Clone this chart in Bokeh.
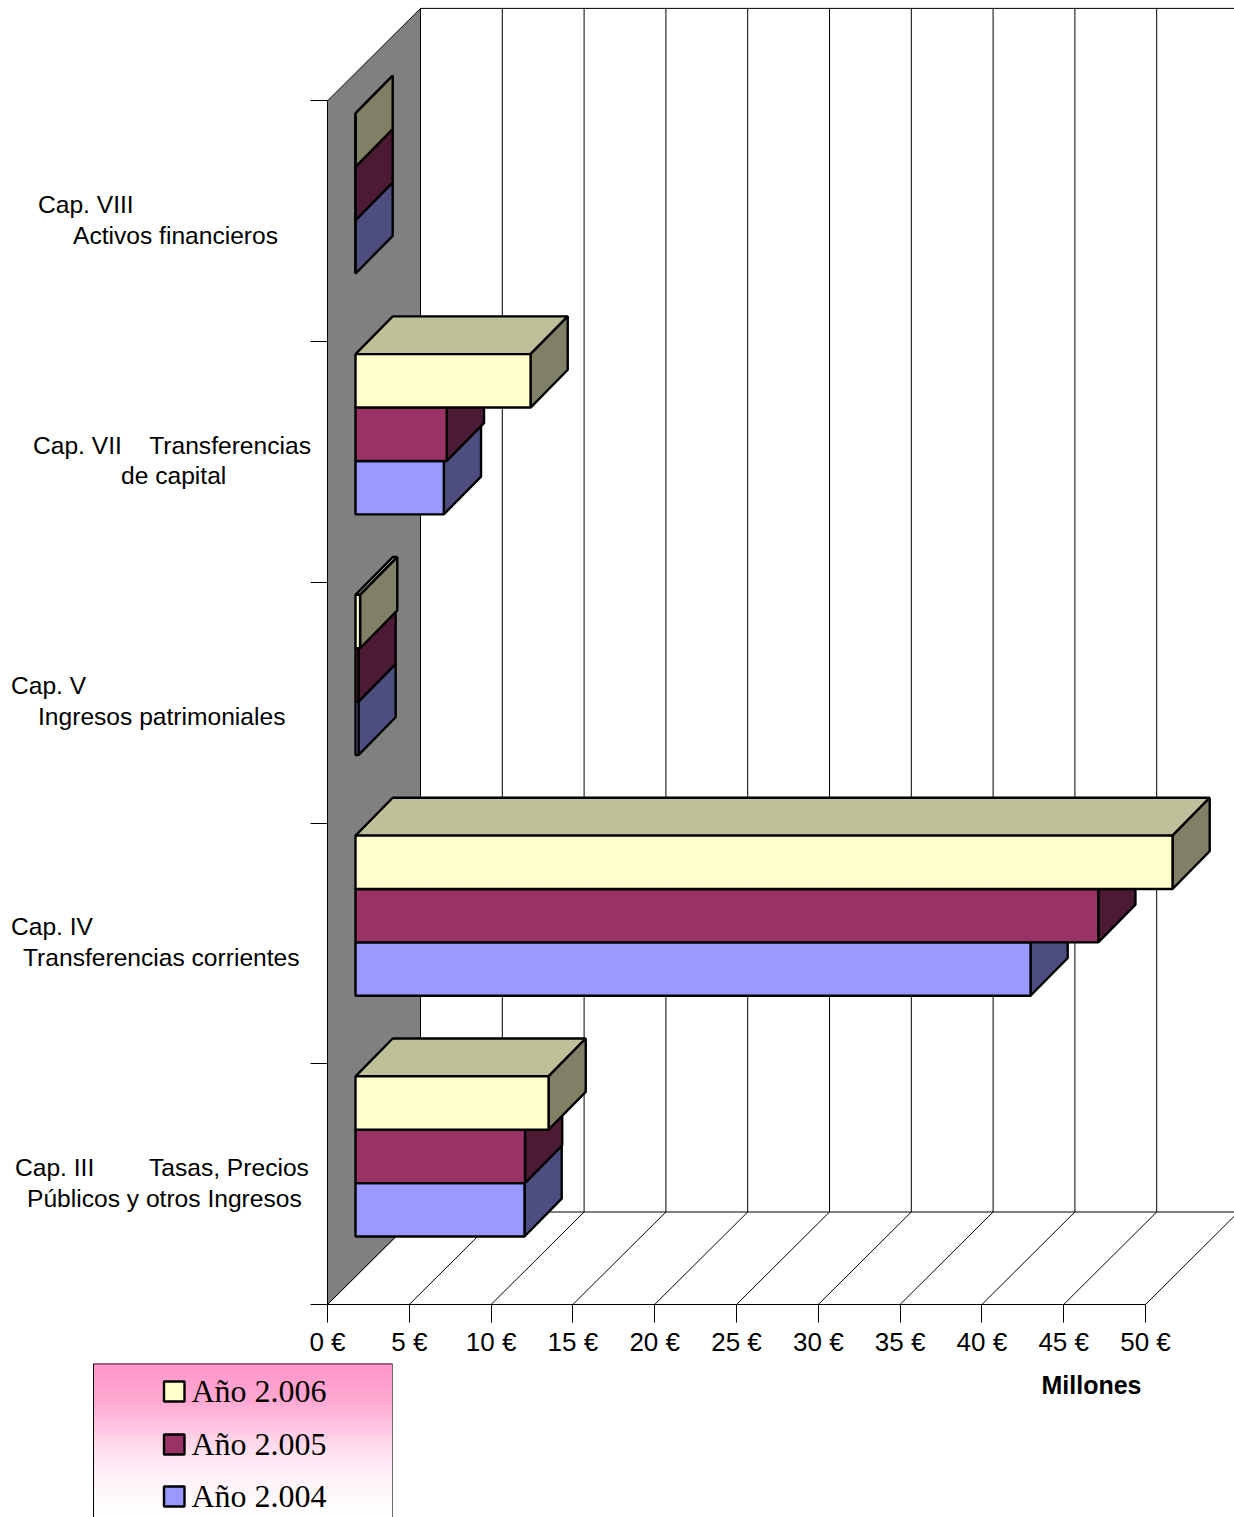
from bokeh.plotting import figure
from bokeh.models import ColumnDataSource, LinearAxis, FixedTicker, PrintfTickFormatter, Range1d
from bokeh.core.properties import value
from bokeh.embed import file_html
from bokeh.resources import INLINE

categories = ["Cap. III", "Cap. IV", "Cap. V", "Cap. VII", "Cap. VIII"]
label_line1 = ["Cap. III\u00a0\u00a0\u00a0\u00a0\u00a0\u00a0\u00a0\u00a0Tasas, Precios",
               "Cap. IV", "Cap. V",
               "Cap. VII\u00a0\u00a0\u00a0\u00a0Transferencias", "Cap. VIII"]
label_line2 = ["Públicos y otros Ingresos", "Transferencias corrientes",
               "Ingresos patrimoniales", "de capital", "Activos financieros"]
years = ["Año 2.004", "Año 2.005", "Año 2.006"]
anio_2004 = [10.33, 41.26, 0.18, 5.40, 0.0]
anio_2005 = [10.36, 45.40, 0.18, 5.58, 0.0]
anio_2006 = [11.80, 49.94, 0.28, 10.70, 0.0]
value_ticks = [0, 5, 10, 15, 20, 25, 30, 35, 40, 45, 50]

front_colors = ["#9999FF", "#993366", "#FFFFCC"]
side_colors = ["#4D4D80", "#4D1A33", "#808066"]
top_colors = ["#7373BF", "#73264D", "#BFBF99"]

W, H = 1234, 1517
X0_PX, Y0_PX = 327.0, 1304.0      # image position of the origin
PX_X, PX_Y = 16.36, 240.72         # pixels per unit
def dx(px): return px / PX_X
def dy(px): return px / PX_Y
def xd(px): return (px - X0_PX) / PX_X
def yd(px): return (Y0_PX - px) / PX_Y

DEPTH_X, DEPTH_Y = dx(93), dy(92.5)
GAP_X = dx(28)
BAR_DX, BAR_DY = dx(37.2), dy(37.8)
BAR_H = dy(53.4)
GROUP_BASE = dy(68)
XMAX, YMAX = 50, 5

p = figure(width=W, height=H, output_backend="svg", toolbar_location=None,
           x_axis_type=None, y_axis_type=None,
           x_range=Range1d(xd(0), xd(W)), y_range=Range1d(yd(H), yd(0)),
           min_border=0, min_border_left=0, min_border_right=0, min_border_top=0, min_border_bottom=0,
           outline_line_color=None, background_fill_color="white", border_fill_color="white")
p.grid.visible = False

# back wall gridlines and floor
back_y = YMAX + DEPTH_Y
p.segment(x0=[t + DEPTH_X for t in value_ticks], y0=[DEPTH_Y] * len(value_ticks),
          x1=[t + DEPTH_X for t in value_ticks], y1=[back_y] * len(value_ticks),
          line_color="black", line_width=1)
p.segment(x0=[DEPTH_X], y0=[back_y], x1=[XMAX + DEPTH_X], y1=[back_y], line_color="black", line_width=1)
p.segment(x0=[DEPTH_X], y0=[DEPTH_Y], x1=[XMAX + DEPTH_X], y1=[DEPTH_Y], line_color="black", line_width=1)
p.segment(x0=value_ticks, y0=[0] * len(value_ticks),
          x1=[t + DEPTH_X for t in value_ticks], y1=[DEPTH_Y] * len(value_ticks),
          line_color="black", line_width=1)

# side wall
p.patch(x=[0, DEPTH_X, DEPTH_X, 0], y=[0, DEPTH_Y, back_y, YMAX],
        fill_color="#808080", line_color="black", line_width=1)

# axes
xaxis = LinearAxis(fixed_location=0, bounds=(0, XMAX),
                   ticker=FixedTicker(ticks=value_ticks),
                   formatter=PrintfTickFormatter(format="%d €"))
xaxis.axis_line_color = "black"
xaxis.major_tick_line_color = "black"
xaxis.major_tick_in = 0
xaxis.major_tick_out = 18
xaxis.minor_tick_line_color = None
xaxis.major_label_standoff = 4
xaxis.major_label_text_font = "Liberation Sans"
xaxis.major_label_text_font_size = "26px"
xaxis.major_label_text_color = "black"
p.add_layout(xaxis, "below")

yaxis = LinearAxis(fixed_location=0, bounds=(0, YMAX),
                   ticker=FixedTicker(ticks=[0, 1, 2, 3, 4, 5]),
                   major_label_overrides={i: "" for i in range(6)})
yaxis.axis_line_color = "black"
yaxis.major_tick_line_color = "black"
yaxis.major_tick_in = 0
yaxis.major_tick_out = 17
yaxis.minor_tick_line_color = None
p.add_layout(yaxis, "left")

# 3D bars
for s, vals in enumerate([anio_2004, anio_2005, anio_2006]):
    fx, fy, sx, sy, tx, ty = [], [], [], [], [], []
    for c, v in enumerate(vals):
        x0, x1 = GAP_X, GAP_X + v
        y0 = c + GROUP_BASE + s * BAR_H
        y1 = y0 + BAR_H
        fx.append([x0, x1, x1, x0]); fy.append([y0, y0, y1, y1])
        sx.append([x1, x1 + BAR_DX, x1 + BAR_DX, x1])
        sy.append([y0, y0 + BAR_DY, y1 + BAR_DY, y1])
        tx.append([x0, x0 + BAR_DX, x1 + BAR_DX, x1])
        ty.append([y1, y1 + BAR_DY, y1 + BAR_DY, y1])
    p.patches(xs=tx, ys=ty, fill_color=top_colors[s], line_color="black", line_width=2.4)
    p.patches(xs=sx, ys=sy, fill_color=side_colors[s], line_color="black", line_width=2.4)
    p.patches(xs=fx, ys=fy, fill_color=front_colors[s], line_color="black", line_width=2.4)

# category labels (two lines, each with its own left edge)
font = value("Liberation Sans")
centers = [i + 0.5 for i in range(len(categories))]
l1 = ColumnDataSource(dict(x=[0] * 5, y=centers, t=label_line1,
                           xo=[a - X0_PX for a in (14.5, 10.5, 10.5, 32.5, 37.5)],
                           yo=[-16.6, -16.6, -17.6, -16.6, -16.6]))
l2 = ColumnDataSource(dict(x=[0] * 5, y=centers, t=label_line2,
                           xo=[a - X0_PX for a in (26.5, 22.5, 37.5, 120.5, 72.5)],
                           yo=[14.4, 14.4, 13.4, 13.4, 14.4]))
for src in (l1, l2):
    p.text(x="x", y="y", text="t", x_offset="xo", y_offset="yo", source=src,
           text_font=font, text_font_size="24.6px", text_color="black",
           text_align="left", text_baseline="middle")

p.text(x=[xd(1041)], y=[yd(1384)], text=["Millones"], text_font=font, text_font_size="25px",
       text_font_style="bold", text_color="black", text_align="left", text_baseline="middle")

# legend box with pink-to-white gradient (stops)
stops = [(1363, 147, 200), (1400, 165, 208), (1430, 200, 226), (1450, 224, 238),
         (1480, 243, 249), (1505, 252, 253), (1520, 255, 255)]
def grad(py):
    for (a, g0, b0), (c, g1, b1) in zip(stops, stops[1:]):
        if py <= c:
            t = (py - a) / (c - a)
            return "#FF%02X%02X" % (round(g0 + (g1 - g0) * t), round(b0 + (b1 - b0) * t))
    return "#FFFFFF"
step = 2
rows = list(range(1363, 1520, step))
p.quad(left=xd(93), right=xd(392), top=[yd(r) for r in rows], bottom=[yd(r + step) for r in rows],
       fill_color=[grad(r) for r in rows], line_color=[grad(r) for r in rows], line_width=0.5)
p.segment(x0=[xd(93)], y0=[yd(1363.5)], x1=[xd(392)], y1=[yd(1363.5)], line_color="#442233", line_width=1)
p.segment(x0=[xd(93)], y0=[yd(1363.5)], x1=[xd(93)], y1=[yd(1530)], line_color="black", line_width=1)
p.segment(x0=[xd(392)], y0=[yd(1363.5)], x1=[xd(392)], y1=[yd(1530)], line_color="#666666", line_width=1)

leg_y = [yd(1495), yd(1443), yd(1390)]
leg_box = [yd(1496), yd(1444), yd(1391)]
p.quad(left=xd(163.5), right=xd(184), top=[y + dy(10) for y in leg_box], bottom=[y - dy(10) for y in leg_box],
       fill_color=front_colors, line_color="black", line_width=2.4)
p.text(x=[xd(191)] * 3, y=leg_y, text=years, text_font=value("Liberation Serif"), text_font_size="32px",
       text_color="black", text_align="left", text_baseline="middle")

open("out.html", "w").write(file_html(p, INLINE))
